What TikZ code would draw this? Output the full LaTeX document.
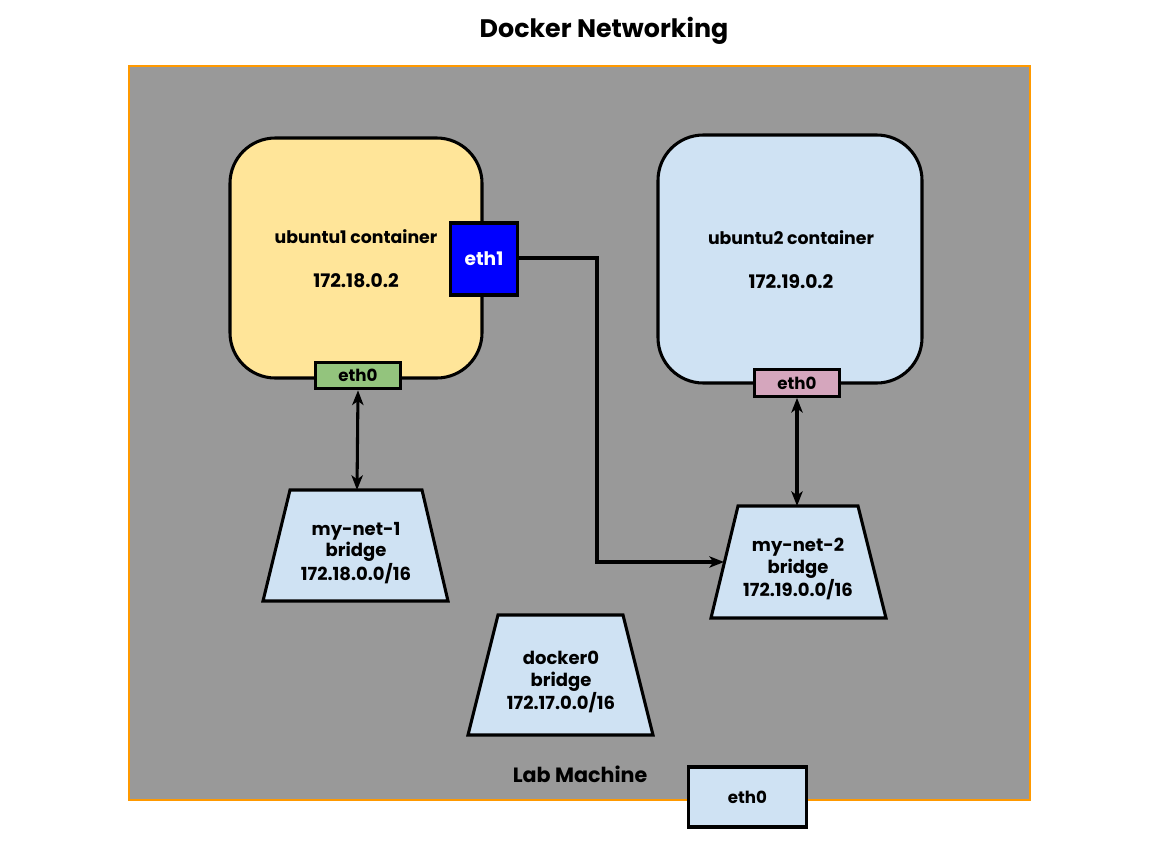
\documentclass[tikz,border=0pt]{standalone}
\usepackage{fontspec}
\setmainfont{Poppins}
\usetikzlibrary{arrows.meta}
\definecolor{machine}{HTML}{999999}
\definecolor{framec}{HTML}{FF9900}
\definecolor{ubu1}{HTML}{FFE599}
\definecolor{lblue}{HTML}{CFE2F3}
\definecolor{ethgreen}{HTML}{93C47D}
\definecolor{ethpink}{HTML}{D5A6BD}
\definecolor{ethblue}{HTML}{0000FF}
\begin{document}
\begin{tikzpicture}[x=0.75pt,y=-0.75pt,
  lbl/.style={font=\bfseries\fontsize{13}{15}\selectfont, text=black, inner sep=0pt},
  iplbl/.style={font=\bfseries\fontsize{14}{16}\selectfont, text=black, inner sep=0pt},
  brlbl/.style={align=center, text=black, inner sep=0pt, font=\bfseries\fontsize{13.5}{16}\selectfont},
  box/.style={draw=black, line width=2.3pt},
  cont/.style={draw=black, line width=2.3pt, rounded corners=34pt},
  conn/.style={draw=black, line width=2.3pt},
  tip/.style={-{Stealth[length=11pt,width=8.5pt,inset=3pt]}},
  tips/.style={{Stealth[length=11pt,width=8.5pt,inset=3pt]}-{Stealth[length=11pt,width=8.5pt,inset=3pt]}}]
\useasboundingbox (0,0) rectangle (1152,864);
\fill[white] (0,0) rectangle (1152,864);
% title
\node[lbl, font=\bfseries\fontsize{19}{23}\selectfont] (title) at (604,31) {Docker Networking};
% lab machine
\path[fill=machine, draw=framec, line width=2pt] (129,66) rectangle (1030,800);
\node[lbl, font=\bfseries\fontsize{15.5}{18}\selectfont] (lab) at (580,774) {Lab Machine};
% ubuntu1
\path[cont, fill=ubu1] (230,138) rectangle (482,378);
\node[lbl] (u1name) at (356,237) {ubuntu1 container};
\node[iplbl] (u1ip) at (356,281) {172.18.0.2};
\node[box, fill=ethblue, minimum width=50pt, minimum height=54pt, inner sep=0pt,
  font=\bfseries\fontsize{14}{16}\selectfont, text=white] (eth1) at (484,259) {eth1};
\node[box, fill=ethgreen, minimum width=64pt, minimum height=20pt, inner sep=0pt,
  font=\bfseries\fontsize{12.5}{14}\selectfont] (u1eth0) at (358,375.5) {eth0};
% ubuntu2
\path[cont, fill=lblue] (658,135) rectangle (922,383);
\node[lbl] (u2name) at (791,238) {ubuntu2 container};
\node[iplbl] (u2ip) at (791,282) {172.19.0.2};
\node[box, fill=ethpink, minimum width=64pt, minimum height=20pt, inner sep=0pt,
  font=\bfseries\fontsize{12.5}{14}\selectfont] (u2eth0) at (797,383) {eth0};
% my-net-1
\coordinate (n1top) at (357,490);
\path[box, fill=lblue] (290,490) -- (422,490) -- (448,601) -- (263,601) -- cycle;
\node[brlbl] (net1) at (356,553) {my-net-1\\bridge\\172.18.0.0/16};
% my-net-2
\coordinate (n2top) at (797,506);
\coordinate (n2left) at (724,562);
\path[box, fill=lblue] (738,506) -- (858,506) -- (886,618) -- (711,618) -- cycle;
\node[brlbl] (net2) at (798,569) {my-net-2\\bridge\\172.19.0.0/16};
% docker0
\path[box, fill=lblue] (498,615) -- (623,615) -- (653,735) -- (468,735) -- cycle;
\node[brlbl] (dock) at (561,682) {docker0\\bridge\\172.17.0.0/16};
% host eth0
\node[box, fill=lblue, minimum width=88pt, minimum height=45pt, inner sep=0pt,
  font=\bfseries\fontsize{12.5}{14}\selectfont] (heth0) at (747.5,797) {eth0};
% connectors
\draw[conn, tips] (u1eth0.south) -- (n1top);
\draw[conn, tips] (u2eth0.south) -- (n2top);
\draw[conn, tip] (eth1.east |- 0,258) -- (597,258) -- (597,562) -- (n2left);
\end{tikzpicture}
\end{document}
